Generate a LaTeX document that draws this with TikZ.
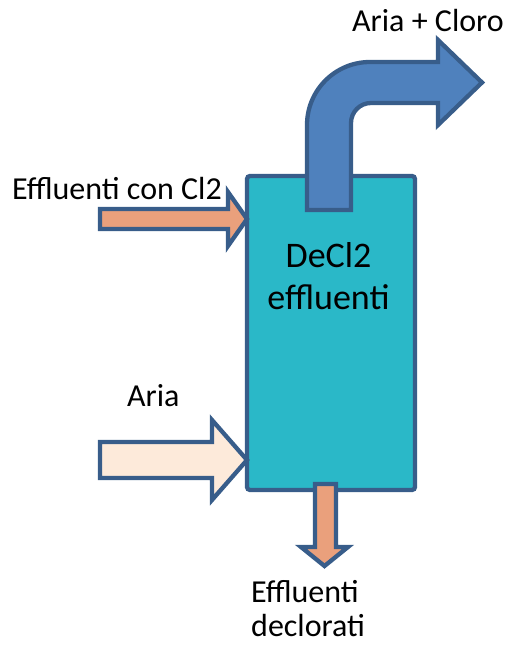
\documentclass[tikz,border=0pt]{standalone}
\usepackage{fontspec}
\setmainfont{Carlito}
\usetikzlibrary{positioning}
\definecolor{tankcyan}{RGB}{42, 184, 200}
\definecolor{edgeblue}{RGB}{56, 93, 138}
\definecolor{pipeblue}{RGB}{79, 129, 189}
\definecolor{cloroflow}{RGB}{234, 160, 124}
\definecolor{ariaflow}{RGB}{253, 234, 218}

\begin{document}
\begin{tikzpicture}[x=1pt, y=1pt,
  outline/.style={draw=edgeblue, line width=4.3pt},
  label/.style={font=\fontsize{32}{34}\selectfont, inner sep=0pt}]
  \useasboundingbox (0,0) rectangle (507,648);

  % colonna
  \node[outline, fill=tankcyan, rounded corners=3pt, minimum width=168pt,
        minimum height=314pt, inner sep=0pt] (tank) at (331,315) {};
  \node[font=\fontsize{36}{42}\selectfont, align=center, inner sep=0pt,
        anchor=base] (tanklbl) at (328.5,338) {DeCl2\\effluenti};

  % uscita aria + cloro
  \filldraw[outline, fill=pipeblue] (307,438) -- (307,523)
    arc[start angle=180, end angle=90, radius=63] -- (438,586) -- (438,608)
    -- (482,565.5) -- (438,523) -- (438,545) -- (371,545)
    arc[start angle=90, end angle=180, radius=20] -- (351,438) -- cycle;
  \node[label, anchor=base west] (outlbl) at (352,616) {Aria + Cloro};

  % ingresso effluenti
  \filldraw[outline, fill=cloroflow] (100,419) -- (100,439) -- (228,439)
    -- (228,456) -- (247,429) -- (228,402) -- (228,419) -- cycle;
  \node[label, anchor=base west] (inlbl) at (12,448) {Effluenti con Cl2};

  % ingresso aria
  \filldraw[outline, fill=ariaflow] (100,170) -- (100,206) -- (212,206)
    -- (212,228) -- (247,188) -- (212,148) -- (212,170) -- cycle;
  \node[label, anchor=base west] (arialbl) at (127,241) {Aria};

  % uscita effluenti
  \filldraw[outline, fill=cloroflow] (315,164) -- (336,164) -- (336,101)
    -- (348,101) -- (324.5,82) -- (301,101) -- (315,101) -- cycle;
  \node[label, align=left, anchor=base west] (botlbl) at (251,11)
    {Effluenti\\declorati};
\end{tikzpicture}
\end{document}
